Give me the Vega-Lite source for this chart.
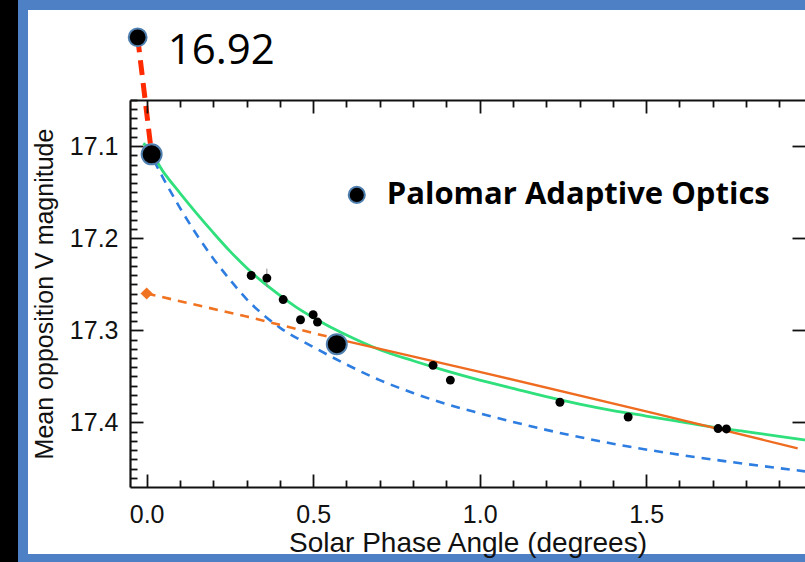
{
  "$schema": "https://vega.github.io/schema/vega-lite/v6.json",
  "width": 675,
  "height": 387,
  "autosize": {"type": "none"},
  "padding": {"left": 130, "top": 100, "right": 0, "bottom": 75},
  "background": "#4e80c6",
  "config": {
    "view": {"stroke": null},
    "axis": {
      "grid": false,
      "zindex": 1,
      "domainColor": "#111111",
      "domainWidth": 2.2,
      "tickColor": "#111111",
      "tickWidth": 1.8,
      "labelFont": "Liberation Sans",
      "labelFontSize": 25,
      "labelColor": "#111111",
      "titleFont": "Liberation Sans",
      "titleFontSize": 25,
      "titleFontWeight": "normal",
      "titleColor": "#111111"
    }
  },
  "datasets": {
    "panel": [
      {"part": "page"}
    ],
    "blue": [
      {"x": 0.0, "y": 17.100}, {"x": 0.05, "y": 17.135}, {"x": 0.1, "y": 17.167}, {"x": 0.15, "y": 17.196},
      {"x": 0.2, "y": 17.222}, {"x": 0.25, "y": 17.245}, {"x": 0.3, "y": 17.266}, {"x": 0.35, "y": 17.283},
      {"x": 0.4, "y": 17.297}, {"x": 0.5, "y": 17.318}, {"x": 0.6, "y": 17.337}, {"x": 0.7, "y": 17.354},
      {"x": 0.8, "y": 17.368}, {"x": 0.9, "y": 17.380}, {"x": 1.0, "y": 17.390}, {"x": 1.2, "y": 17.408},
      {"x": 1.4, "y": 17.423}, {"x": 1.6, "y": 17.435}, {"x": 1.8, "y": 17.445}, {"x": 1.977, "y": 17.453}
    ],
    "green": [
      {"x": -0.01, "y": 17.097}, {"x": 0.0, "y": 17.100}, {"x": 0.05, "y": 17.128}, {"x": 0.1, "y": 17.151},
      {"x": 0.15, "y": 17.173}, {"x": 0.2, "y": 17.194}, {"x": 0.25, "y": 17.214}, {"x": 0.3, "y": 17.232},
      {"x": 0.35, "y": 17.248}, {"x": 0.4, "y": 17.262}, {"x": 0.45, "y": 17.275}, {"x": 0.5, "y": 17.286},
      {"x": 0.55, "y": 17.296}, {"x": 0.6, "y": 17.305}, {"x": 0.7, "y": 17.321}, {"x": 0.8, "y": 17.333},
      {"x": 0.9, "y": 17.344}, {"x": 1.0, "y": 17.354}, {"x": 1.1, "y": 17.363}, {"x": 1.2, "y": 17.372},
      {"x": 1.3, "y": 17.380}, {"x": 1.4, "y": 17.387}, {"x": 1.5, "y": 17.393}, {"x": 1.6, "y": 17.399},
      {"x": 1.7, "y": 17.405}, {"x": 1.8, "y": 17.410}, {"x": 1.9, "y": 17.415}, {"x": 1.977, "y": 17.419}
    ],
    "orange_dash": [
      {"x": 0.0, "y": 17.260}, {"x": 0.3, "y": 17.285}, {"x": 0.58, "y": 17.310}
    ],
    "orange_solid": [
      {"x": 0.58, "y": 17.310}, {"x": 1.0, "y": 17.345}, {"x": 1.5, "y": 17.388}, {"x": 1.955, "y": 17.428}
    ],
    "link": [
      {"x": -0.027, "y": 16.982}, {"x": 0.015, "y": 17.109}
    ],
    "obs": [
      {"x": 0.314, "y": 17.2405}, {"x": 0.361, "y": 17.2433}, {"x": 0.41, "y": 17.2666},
      {"x": 0.462, "y": 17.2885}, {"x": 0.5, "y": 17.283}, {"x": 0.513, "y": 17.291},
      {"x": 0.86, "y": 17.338}, {"x": 0.912, "y": 17.354}, {"x": 1.241, "y": 17.378},
      {"x": 1.446, "y": 17.394}, {"x": 1.716, "y": 17.4066}, {"x": 1.741, "y": 17.407}
    ],
    "err": [
      {"x": 0.361, "lo": 17.233, "hi": 17.253}
    ],
    "pao": [
      {"x": 0.015, "y": 17.109}, {"x": 0.571, "y": 17.315}
    ],
    "top": [
      {"x": -0.027, "y": 16.982, "label": "16.92"}
    ],
    "zero": [
      {"x": 0.0, "y": 17.260}
    ],
    "legend": [
      {"x": 0.631, "y": 17.153, "label": "Palomar Adaptive Optics"}
    ]
  },
  "resolve": {"axis": {"x": "independent", "y": "independent"}},
  "layer": [
    {
      "data": {"name": "panel"},
      "mark": {"type": "rect", "color": "#ffffff", "opacity": 1},
      "encoding": {
        "x": {"datum": -0.3563, "type": "quantitative",
              "scale": {"domain": [-0.05, 1.977], "nice": false, "zero": false},
              "axis": {"orient": "bottom", "zindex": 2, "values": [0, 0.5, 1, 1.5], "format": ".1f", "tickSize": -13, "labelPadding": 28, "title": "Solar Phase Angle (degrees)", "titleFontSize": 28, "titlePadding": 2}},
        "x2": {"datum": 2.3},
        "y": {"datum": 16.9523, "type": "quantitative",
              "scale": {"domain": [17.05, 17.47], "nice": false, "zero": false, "reverse": true},
              "axis": {"orient": "left", "zindex": 2, "values": [17.1, 17.2, 17.3, 17.4], "format": ".1f", "tickSize": -13, "labelPadding": 25, "title": "Mean opposition V magnitude", "titlePadding": 12}},
        "y2": {"datum": 17.5427}
      }
    },
    {
      "data": {"name": "panel"},
      "mark": {"type": "rect", "color": "#000000", "opacity": 1},
      "encoding": {
        "x": {"datum": -0.6, "type": "quantitative", "axis": null},
        "x2": {"datum": -0.3863},
        "y": {"datum": 16.9, "type": "quantitative", "axis": null},
        "y2": {"datum": 17.6}
      }
    },
    {
      "data": {"name": "blue"},
      "mark": {"type": "line", "color": "#2e7de0", "strokeWidth": 2.6, "strokeDash": [9, 7], "interpolate": "monotone"},
      "encoding": {
        "x": {"field": "x", "type": "quantitative",
              "axis": {"orient": "bottom", "zindex": 2, "values": [0.1, 0.2, 0.3, 0.4, 0.6, 0.7, 0.8, 0.9, 1.1, 1.2, 1.3, 1.4, 1.6, 1.7, 1.8, 1.9], "labels": false, "domain": false, "tickSize": -7, "title": null}},
        "y": {"field": "y", "type": "quantitative",
              "axis": {"orient": "left", "zindex": 2, "values": [17.05, 17.06, 17.07, 17.08, 17.09, 17.11, 17.12, 17.13, 17.14, 17.15, 17.16, 17.17, 17.18, 17.19, 17.21, 17.22, 17.23, 17.24, 17.25, 17.26, 17.27, 17.28, 17.29, 17.31, 17.32, 17.33, 17.34, 17.35, 17.36, 17.37, 17.38, 17.39, 17.41, 17.42, 17.43, 17.44, 17.45, 17.46], "labels": false, "domain": false, "tickSize": -7, "title": null}}
      }
    },
    {
      "data": {"name": "green"},
      "mark": {"type": "line", "color": "#2fe07c", "strokeWidth": 2.8, "interpolate": "monotone"},
      "encoding": {
        "x": {"field": "x", "type": "quantitative",
              "axis": {"orient": "top", "zindex": 2, "values": [0, 0.5, 1, 1.5], "labels": false, "tickSize": -13, "title": null}},
        "y": {"field": "y", "type": "quantitative",
              "axis": {"orient": "right", "zindex": 2, "values": [17.1, 17.2, 17.3, 17.4], "labels": false, "domain": false, "tickSize": -13, "title": null}}
      }
    },
    {
      "data": {"name": "orange_dash"},
      "mark": {"type": "line", "color": "#f07322", "strokeWidth": 2.6, "strokeDash": [9, 7]},
      "encoding": {
        "x": {"field": "x", "type": "quantitative",
              "axis": {"orient": "top", "zindex": 2, "values": [0.1, 0.2, 0.3, 0.4, 0.6, 0.7, 0.8, 0.9, 1.1, 1.2, 1.3, 1.4, 1.6, 1.7, 1.8, 1.9], "labels": false, "domain": false, "tickSize": -7, "title": null}},
        "y": {"field": "y", "type": "quantitative", "axis": null}
      }
    },
    {
      "data": {"name": "orange_solid"},
      "mark": {"type": "line", "color": "#ee6b1f", "strokeWidth": 2.4},
      "encoding": {
        "x": {"field": "x", "type": "quantitative", "axis": null},
        "y": {"field": "y", "type": "quantitative", "axis": null}
      }
    },
    {
      "data": {"name": "link"},
      "mark": {"type": "line", "color": "#ff2a00", "strokeWidth": 5, "strokeDash": [15, 8]},
      "encoding": {
        "x": {"field": "x", "type": "quantitative", "axis": null},
        "y": {"field": "y", "type": "quantitative", "axis": null}
      }
    },
    {
      "data": {"name": "err"},
      "mark": {"type": "rule", "color": "#8a8a8a", "strokeWidth": 1},
      "encoding": {
        "x": {"field": "x", "type": "quantitative", "axis": null},
        "y": {"field": "lo", "type": "quantitative", "axis": null},
        "y2": {"field": "hi"}
      }
    },
    {
      "data": {"name": "obs"},
      "mark": {"type": "circle", "color": "#000000", "size": 80, "opacity": 1},
      "encoding": {
        "x": {"field": "x", "type": "quantitative", "axis": null},
        "y": {"field": "y", "type": "quantitative", "axis": null}
      }
    },
    {
      "data": {"name": "zero"},
      "mark": {"type": "point", "shape": "diamond", "filled": true, "color": "#f07322", "size": 150, "opacity": 1},
      "encoding": {
        "x": {"field": "x", "type": "quantitative", "axis": null},
        "y": {"field": "y", "type": "quantitative", "axis": null}
      }
    },
    {
      "data": {"name": "pao"},
      "mark": {"type": "point", "shape": "circle", "filled": true, "fill": "#000000", "stroke": "#4f7fae", "strokeWidth": 2, "size": 400, "opacity": 1, "zindex": 3},
      "encoding": {
        "x": {"field": "x", "type": "quantitative", "axis": null},
        "y": {"field": "y", "type": "quantitative", "axis": null}
      }
    },
    {
      "data": {"name": "top"},
      "mark": {"type": "point", "shape": "circle", "filled": true, "fill": "#000000", "stroke": "#4f7fae", "strokeWidth": 2, "size": 320, "opacity": 1},
      "encoding": {
        "x": {"field": "x", "type": "quantitative", "axis": null},
        "y": {"field": "y", "type": "quantitative", "axis": null}
      }
    },
    {
      "data": {"name": "top"},
      "mark": {"type": "text", "font": "Open Sans", "fontSize": 42, "color": "#000000", "align": "left", "baseline": "alphabetic", "dx": 30, "dy": 27},
      "encoding": {
        "x": {"field": "x", "type": "quantitative", "axis": null},
        "y": {"field": "y", "type": "quantitative", "axis": null},
        "text": {"field": "label"}
      }
    },
    {
      "data": {"name": "legend"},
      "mark": {"type": "point", "shape": "circle", "filled": true, "fill": "#000000", "stroke": "#4f7fae", "strokeWidth": 2, "size": 260, "opacity": 1},
      "encoding": {
        "x": {"field": "x", "type": "quantitative", "axis": null},
        "y": {"field": "y", "type": "quantitative", "axis": null}
      }
    },
    {
      "data": {"name": "legend"},
      "mark": {"type": "text", "font": "Open Sans", "fontSize": 31, "fontWeight": "bold", "color": "#000000", "align": "left", "baseline": "alphabetic", "dx": 30, "dy": 9},
      "encoding": {
        "x": {"field": "x", "type": "quantitative", "axis": null},
        "y": {"field": "y", "type": "quantitative", "axis": null},
        "text": {"field": "label"}
      }
    }
  ]
}
